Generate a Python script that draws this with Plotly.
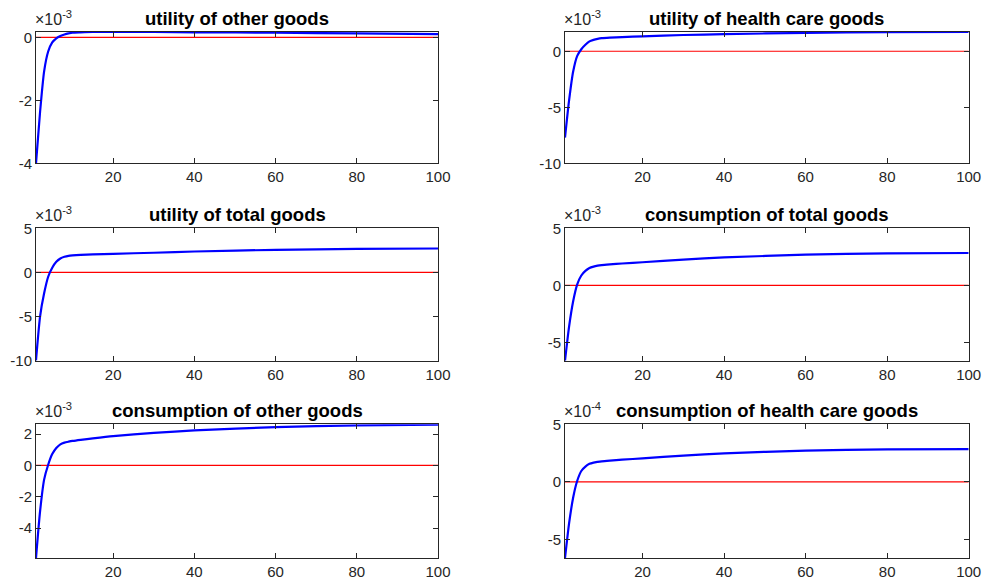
import plotly.graph_objects as go

periods = [1, 2, 3, 4, 5, 6, 7, 8, 9, 10, 12, 15, 20, 30, 40, 60, 80, 100]

titles = [
    "utility of other goods",
    "utility of health care goods",
    "utility of total goods",
    "consumption of total goods",
    "consumption of other goods",
    "consumption of health care goods",
]
exponents = [-3, -3, -3, -3, -3, -4]

# Values in units of 10^exponent
utility_other = [-4.0, -2.37, -1.08, -0.45, -0.16, -0.03, 0.04, 0.09, 0.125, 0.15,
                 0.16, 0.17, 0.17, 0.17, 0.16, 0.147, 0.126, 0.105]
utility_health = [-7.7, -4.39, -1.81, -0.41, 0.18, 0.58, 0.88, 1.02, 1.11, 1.17,
                  1.22, 1.27, 1.33, 1.45, 1.53, 1.64, 1.70, 1.72]
utility_total = [-9.98, -5.0, -2.37, -0.49, 0.53, 1.20, 1.58, 1.77, 1.88, 1.93,
                 1.99, 2.04, 2.11, 2.23, 2.37, 2.56, 2.67, 2.71]
consumption_total = [-6.59, -3.61, -1.39, 0.09, 0.87, 1.27, 1.53, 1.65, 1.73, 1.78,
                     1.84, 1.92, 2.03, 2.26, 2.45, 2.69, 2.80, 2.84]
consumption_other = [-5.91, -2.94, -0.91, 0.04, 0.72, 1.11, 1.34, 1.45, 1.51, 1.56,
                     1.63, 1.72, 1.86, 2.07, 2.23, 2.44, 2.55, 2.60]
consumption_health = [-6.6, -3.6, -1.35, 0.1, 0.95, 1.33, 1.57, 1.68, 1.74, 1.79,
                      1.85, 1.93, 2.04, 2.29, 2.48, 2.72, 2.82, 2.85]

series = [utility_other, utility_health, utility_total,
          consumption_total, consumption_other, consumption_health]

y_ranges = [[-4, 0.17], [-10, 1.72], [-10, 5], [-6.59, 5], [-5.91, 2.62], [-6.6, 5]]
y_ticks = [[-4, -2, 0], [-10, -5, 0], [-10, -5, 0, 5], [-5, 0, 5], [-4, -2, 0, 2], [-5, 0, 5]]
x_ticks = [20, 40, 60, 80, 100]
zero_x = [1, 100]
zero_y = [0, 0]

W, H = 984, 587
col_px = [(36, 438), (565, 968.7)]
row_px = [(32, 163.3), (228.3, 360.7), (424.3, 558)]

AX = "#262626"
FONT = "Liberation Sans, Arial, sans-serif"
fig = go.Figure()
layout = dict(
    width=W, height=H, margin=dict(l=0, r=0, t=0, b=0),
    paper_bgcolor="white", plot_bgcolor="white", showlegend=False,
    font=dict(family=FONT, size=15, color=AX),
)
annotations = []
for i in range(6):
    r, c = divmod(i, 2)
    x0, x1 = col_px[c]
    ytop, ybot = row_px[r]
    xd = [x0 / W, x1 / W]
    yd = [1 - ybot / H, 1 - ytop / H]
    n = i + 1
    xa = "x" if n == 1 else f"x{n}"
    ya = "y" if n == 1 else f"y{n}"
    fig.add_trace(go.Scatter(x=zero_x, y=zero_y, mode="lines",
                             line=dict(color="red", width=1.2),
                             xaxis=xa, yaxis=ya, hoverinfo="skip"))
    fig.add_trace(go.Scatter(x=periods, y=series[i], mode="lines",
                             line=dict(color="blue", width=2.2, shape="spline", smoothing=0.6),
                             xaxis=xa, yaxis=ya))
    xkey = "xaxis" if n == 1 else f"xaxis{n}"
    ykey = "yaxis" if n == 1 else f"yaxis{n}"
    common = dict(ticks="inside", ticklen=5, tickcolor=AX, showline=True,
                  linecolor=AX, linewidth=1, mirror="ticks", showgrid=False,
                  zeroline=False, automargin=False,
                  tickfont=dict(family=FONT, size=15, color=AX))
    layout[xkey] = dict(domain=xd, anchor=ya, range=[1, 100], tickvals=x_ticks,
                        ticktext=[str(v) for v in x_ticks], **common)
    layout[ykey] = dict(domain=yd, anchor=xa, range=y_ranges[i], tickvals=y_ticks[i],
                        ticktext=[str(v) for v in y_ticks[i]], **common)
    annotations.append(dict(text=f"<b>{titles[i]}</b>", x=(x0 + x1) / 2 / W,
                            y=1 - (ytop - 14) / H,
                            xref="paper", yref="paper", xanchor="center", yanchor="middle",
                            showarrow=False, font=dict(family=FONT, size=18.5, color="black")))
    annotations.append(dict(text=f"×10<sup>{exponents[i]}</sup>", x=x0 / W,
                            y=1 - (ytop - 2) / H, xref="paper", yref="paper",
                            xanchor="left", yanchor="bottom", showarrow=False,
                            xshift=-3,
                            font=dict(family=FONT, size=16, color=AX)))
layout["annotations"] = annotations
fig.update_layout(**layout)
fig.write_html("out.html",
               config={"displayModeBar": False},
               post_script="document.body.style.margin='0px';"
                           "document.body.style.overflow='hidden';")
